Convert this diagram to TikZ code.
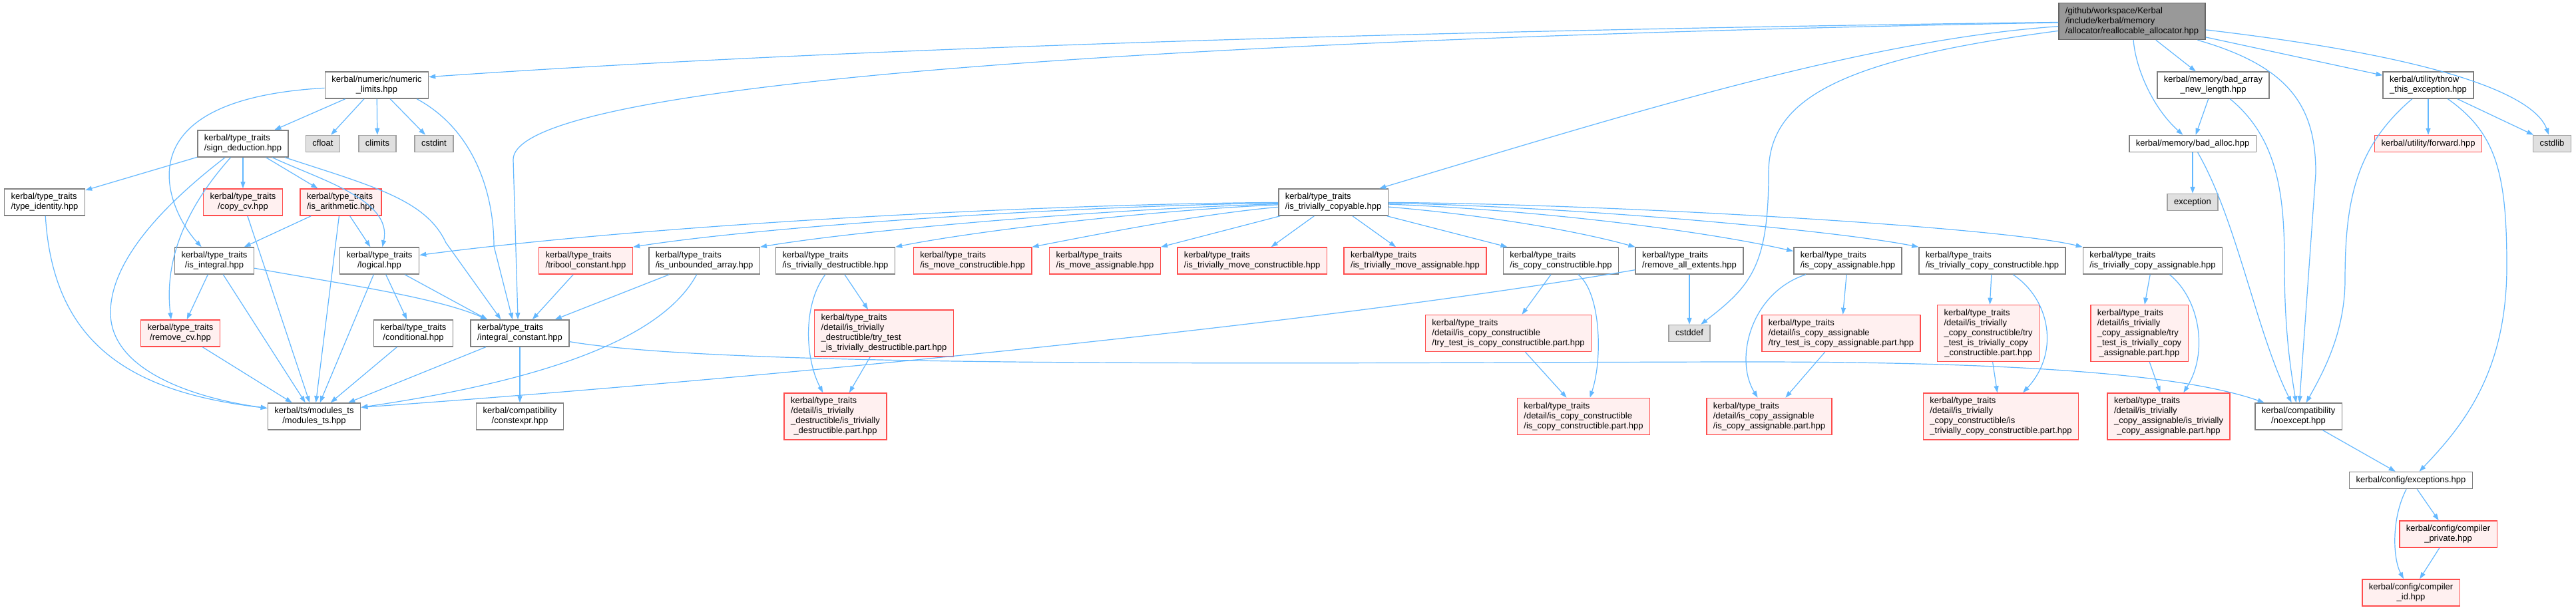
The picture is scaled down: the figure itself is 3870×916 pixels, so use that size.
\documentclass[tikz,border=0pt]{standalone}
\usepackage{fontspec}
\setmainfont{Liberation Sans}
\usetikzlibrary{arrows.meta}

\definecolor{edgeblue}{HTML}{63B8FF}
\definecolor{boxgrey}{HTML}{808080}
\definecolor{redline}{HTML}{FF4D4D}
\definecolor{redfill}{HTML}{FFF0F0}
\definecolor{sysfill}{HTML}{E0E0E0}
\definecolor{sysline}{HTML}{A0A0A0}
\definecolor{rootfill}{HTML}{999999}
\definecolor{rootline}{HTML}{666666}

% first lines flush left, last line centred
\newcommand{\doxlabel}[2]{\begin{tabular}{@{}l@{}}#1\\\multicolumn{1}{@{}c@{}}{#2}\end{tabular}}

\tikzset{
  file/.style={draw=boxgrey, fill=white, line width=1.5pt, inner xsep=10pt, inner ysep=5pt, font=\fontsize{13}{15}\selectfont},
  redfile/.style={file, draw=redline, fill=redfill},
  sysfile/.style={file, draw=sysline, fill=sysfill},
  rootfile/.style={file, draw=rootline, fill=rootfill},
  dep/.style={draw=edgeblue, line width=1.2pt, -{Triangle[length=10pt,width=7pt]}}
}

\begin{document}
\begin{tikzpicture}[x=1pt, y=-1pt]
\fill[white] (0,0) rectangle (3870,916);
\useasboundingbox (0,0) rectangle (3870,916);

% top rows
\node[rootfile] (root) at (3203,32) {\doxlabel{/github/workspace/Kerbal\\/include/kerbal/memory}{/allocator/reallocable\_allocator.hpp}};
\node[file] (numlim) at (566,128) {\doxlabel{kerbal/numeric/numeric}{\_limits.hpp}};
\node[file] (badarr) at (3325,128) {\doxlabel{kerbal/memory/bad\_array}{\_new\_length.hpp}};
\node[file] (throwex) at (3648,128) {\doxlabel{kerbal/utility/throw}{\_this\_exception.hpp}};
\node[file] (signded) at (365,216) {\doxlabel{kerbal/type\_traits}{/sign\_deduction.hpp}};
\node[sysfile] (cfloat) at (485,216) {\strut cfloat};
\node[sysfile] (climits) at (567,216) {\strut climits};
\node[sysfile] (cstdint) at (652,216) {\strut cstdint};
\node[file] (badalloc) at (3294,216) {\strut kerbal/memory/bad\_alloc.hpp};
\node[redfile] (forward) at (3648,216) {\strut kerbal/utility/forward.hpp};
\node[sysfile] (cstdlib) at (3834,216) {\strut cstdlib};
\node[file] (typeid) at (67,304) {\doxlabel{kerbal/type\_traits}{/type\_identity.hpp}};
\node[redfile] (copycv) at (365,304) {\doxlabel{kerbal/type\_traits}{/copy\_cv.hpp}};
\node[redfile] (isarith) at (512,304) {\doxlabel{kerbal/type\_traits}{/is\_arithmetic.hpp}};
\node[file] (istcopy) at (2003,304) {\doxlabel{kerbal/type\_traits}{/is\_trivially\_copyable.hpp}};
\node[sysfile] (exception) at (3294,304) {\strut exception};

% middle row
\node[file] (isint) at (322,392) {\doxlabel{kerbal/type\_traits}{/is\_integral.hpp}};
\node[file] (logical) at (570,392) {\doxlabel{kerbal/type\_traits}{/logical.hpp}};
\node[redfile] (tribool) at (880,392) {\doxlabel{kerbal/type\_traits}{/tribool\_constant.hpp}};
\node[file] (isunbarr) at (1058,392) {\doxlabel{kerbal/type\_traits}{/is\_unbounded\_array.hpp}};
\node[file] (istdestr) at (1255,392) {\doxlabel{kerbal/type\_traits}{/is\_trivially\_destructible.hpp}};
\node[redfile] (ismovec) at (1461,392) {\doxlabel{kerbal/type\_traits}{/is\_move\_constructible.hpp}};
\node[redfile] (ismovea) at (1660,392) {\doxlabel{kerbal/type\_traits}{/is\_move\_assignable.hpp}};
\node[redfile] (istmovec) at (1881,392) {\doxlabel{kerbal/type\_traits}{/is\_trivially\_move\_constructible.hpp}};
\node[redfile] (istmovea) at (2126,392) {\doxlabel{kerbal/type\_traits}{/is\_trivially\_move\_assignable.hpp}};
\node[file] (iscopyc) at (2345,392) {\doxlabel{kerbal/type\_traits}{/is\_copy\_constructible.hpp}};
\node[file] (remallext) at (2538,392) {\doxlabel{kerbal/type\_traits}{/remove\_all\_extents.hpp}};
\node[file] (iscopya) at (2776,392) {\doxlabel{kerbal/type\_traits}{/is\_copy\_assignable.hpp}};
\node[file] (istcopyc) at (2993,392) {\doxlabel{kerbal/type\_traits}{/is\_trivially\_copy\_constructible.hpp}};
\node[file] (istcopya) at (3234,392) {\doxlabel{kerbal/type\_traits}{/is\_trivially\_copy\_assignable.hpp}};

% detail row
\node[redfile] (removecv) at (271,501) {\doxlabel{kerbal/type\_traits}{/remove\_cv.hpp}};
\node[file] (conditional) at (621,501) {\doxlabel{kerbal/type\_traits}{/conditional.hpp}};
\node[file] (intconst) at (781,501) {\doxlabel{kerbal/type\_traits}{/integral\_constant.hpp}};
\node[redfile] (trydestr) at (1328,501) {\doxlabel{kerbal/type\_traits\\/detail/is\_trivially\\\_destructible/try\_test}{\_is\_trivially\_destructible.part.hpp}};
\node[redfile] (trycopyc) at (2266,501) {\doxlabel{kerbal/type\_traits\\/detail/is\_copy\_constructible}{/try\_test\_is\_copy\_constructible.part.hpp}};
\node[sysfile] (cstddef) at (2538,501) {\strut cstddef};
\node[redfile] (trycopya) at (2766,501) {\doxlabel{kerbal/type\_traits\\/detail/is\_copy\_assignable}{/try\_test\_is\_copy\_assignable.part.hpp}};
\node[redfile] (trytcopyc) at (2987,501) {\doxlabel{kerbal/type\_traits\\/detail/is\_trivially\\\_copy\_constructible/try\\\_test\_is\_trivially\_copy}{\_constructible.part.hpp}};
\node[redfile] (trytcopya) at (3214,501) {\doxlabel{kerbal/type\_traits\\/detail/is\_trivially\\\_copy\_assignable/try\\\_test\_is\_trivially\_copy}{\_assignable.part.hpp}};

% bottom rows
\node[file] (modulests) at (472,626) {\doxlabel{kerbal/ts/modules\_ts}{/modules\_ts.hpp}};
\node[file] (constexpr) at (781,626) {\doxlabel{kerbal/compatibility}{/constexpr.hpp}};
\node[redfile] (partdestr) at (1255,626) {\doxlabel{kerbal/type\_traits\\/detail/is\_trivially\\\_destructible/is\_trivially}{\_destructible.part.hpp}};
\node[redfile] (partcopyc) at (2379,626) {\doxlabel{kerbal/type\_traits\\/detail/is\_copy\_constructible}{/is\_copy\_constructible.part.hpp}};
\node[redfile] (partcopya) at (2658,626) {\doxlabel{kerbal/type\_traits\\/detail/is\_copy\_assignable}{/is\_copy\_assignable.part.hpp}};
\node[redfile] (parttcopyc) at (3006,626) {\doxlabel{kerbal/type\_traits\\/detail/is\_trivially\\\_copy\_constructible/is}{\_trivially\_copy\_constructible.part.hpp}};
\node[redfile] (parttcopya) at (3258,626) {\doxlabel{kerbal/type\_traits\\/detail/is\_trivially\\\_copy\_assignable/is\_trivially}{\_copy\_assignable.part.hpp}};
\node[file] (noexcept) at (3453,626) {\doxlabel{kerbal/compatibility}{/noexcept.hpp}};
\node[file] (exceptions) at (3622,722) {\strut kerbal/config/exceptions.hpp};
\node[redfile] (comppriv) at (3678,803) {\doxlabel{kerbal/config/compiler}{\_private.hpp}};
\node[redfile] (compid) at (3622,891) {\doxlabel{kerbal/config/compiler}{\_id.hpp}};

% edges from the root
\draw[dep] (root) .. controls (2200,45) and (1300,70) .. (numlim.9);
\draw[dep] (root) .. controls (2200,50) and (771,100) .. (771,240) -- (intconst.98);
\draw[dep] (root) .. controls (2800,60) and (2450,170) .. (istcopy);
\draw[dep] (root) .. controls (2760,90) and (2657,150) .. (2657,260) .. controls (2657,400) and (2630,430) .. (cstddef);
\draw[dep] (root) -- (badarr);
\draw[dep] (root) .. controls (3208,100) and (3232,160) .. (badalloc);
\draw[dep] (root) .. controls (3440,100) and (3479,160) .. (3479,260) -- (noexcept);
\draw[dep] (root) -- (throwex);
\draw[dep] (root) .. controls (3700,90) and (3810,150) .. (cstdlib);

% numeric limits and sign deduction
\draw[dep] (numlim) -- (signded);
\draw[dep] (numlim) -- (cfloat);
\draw[dep] (numlim) -- (climits);
\draw[dep] (numlim) -- (cstdint);
\draw[dep] (numlim) .. controls (170,150) and (255,320) .. (isint); % passes left of sign_deduction
\draw[dep] (numlim.-19) .. controls (712,195) and (742,290) .. (742,370) -- (intconst.118); % passes right of cstdint
\draw[dep] (signded) -- (typeid);
\draw[dep] (signded) -- (copycv);
\draw[dep] (signded) -- (isarith);
\draw[dep] (signded) .. controls (480,270) and (590,300) .. (logical);
\draw[dep] (signded) .. controls (560,280) and (640,300) .. (670,365) -- (intconst.144);
\draw[dep] (signded) .. controls (290,300) and (245,380) .. (removecv.124);
\draw[dep] (signded) .. controls (230,320) and (166,400) .. (166,470) .. controls (166,560) and (300,600) .. (modulests.170);
\draw[dep] (typeid) .. controls (80,520) and (200,590) .. (modulests.170);
\draw[dep] (copycv) -- (modulests);
\draw[dep] (isarith) -- (isint);
\draw[dep] (isarith) -- (logical);
\draw[dep] (isarith) -- (modulests);
\draw[dep] (isint) -- (removecv);
\draw[dep] (isint) -- (modulests);
\draw[dep] (isint) .. controls (500,425) and (650,445) .. (intconst.157);
\draw[dep] (logical) -- (conditional);
\draw[dep] (logical) -- (modulests);
\draw[dep] (logical) -- (intconst.157);
\draw[dep] (tribool) -- (intconst);
\draw[dep] (isunbarr) -- (intconst);
\draw[dep] (isunbarr) .. controls (1010,480) and (900,560) .. (modulests.11);
\draw[dep] (removecv) -- (modulests);
\draw[dep] (conditional) -- (modulests);
\draw[dep] (intconst) -- (modulests);
\draw[dep] (intconst) -- (constexpr);
\draw[dep] (intconst) .. controls (1100,555) and (2000,545) .. (2600,544) .. controls (3100,543) and (3300,570) .. (noexcept.158);

% is_trivially_copyable fan
\draw[dep] (istcopy) .. controls (1600,306) and (1000,335) .. (logical.8);
\draw[dep] (istcopy) .. controls (1600,310) and (1150,340) .. (tribool.north east);
\draw[dep] (istcopy) .. controls (1650,315) and (1300,345) .. (isunbarr.north east);
\draw[dep] (istcopy) .. controls (1700,318) and (1450,350) .. (istdestr.north east);
\draw[dep] (istcopy) .. controls (1800,322) and (1650,352) .. (ismovec.north east);
\draw[dep] (istcopy) -- (ismovea.north east);
\draw[dep] (istcopy) -- (istmovec);
\draw[dep] (istcopy) -- (istmovea);
\draw[dep] (istcopy) -- (iscopyc);
\draw[dep] (istcopy) .. controls (2250,325) and (2380,350) .. (remallext.north west);
\draw[dep] (istcopy) .. controls (2300,315) and (2550,345) .. (iscopya.170);
\draw[dep] (istcopy) .. controls (2350,310) and (2750,345) .. (istcopyc.north west);
\draw[dep] (istcopy) .. controls (2400,306) and (3000,340) .. (istcopya.north west);

% detail headers
\draw[dep] (istdestr) -- (trydestr);
\draw[dep] (istdestr) .. controls (1205,460) and (1210,540) .. (partdestr);
\draw[dep] (trydestr) -- (partdestr);
\draw[dep] (iscopyc) -- (trycopyc);
\draw[dep] (iscopyc) .. controls (2405,440) and (2408,540) .. (partcopyc);
\draw[dep] (trycopyc) -- (partcopyc);
\draw[dep] (remallext) -- (cstddef);
\draw[dep] (remallext) .. controls (1900,500) and (1000,580) .. (modulests.11);
\draw[dep] (iscopya) -- (trycopya);
\draw[dep] (iscopya) .. controls (2630,440) and (2605,540) .. (partcopya);
\draw[dep] (trycopya) -- (partcopya);
\draw[dep] (istcopyc) -- (trytcopyc);
\draw[dep] (istcopyc) .. controls (3080,450) and (3095,530) .. (parttcopyc);
\draw[dep] (trytcopyc) -- (parttcopyc);
\draw[dep] (istcopya) -- (trytcopya);
\draw[dep] (istcopya) .. controls (3305,450) and (3318,530) .. (parttcopya);
\draw[dep] (trytcopya) -- (parttcopya);

% memory and config side
\draw[dep] (badarr) -- (badalloc);
\draw[dep] (badarr) .. controls (3425,210) and (3432,300) .. (3432,400) .. controls (3432,500) and (3442,560) .. (noexcept);
\draw[dep] (badalloc) -- (exception);
\draw[dep] (badalloc) .. controls (3360,330) and (3390,500) .. (noexcept);
\draw[dep] (throwex) -- (forward);
\draw[dep] (throwex) -- (cstdlib);
\draw[dep] (throwex) .. controls (3540,220) and (3523,300) .. (3523,420) .. controls (3523,500) and (3490,560) .. (noexcept);
\draw[dep] (throwex) .. controls (3750,200) and (3766,260) .. (3766,400) .. controls (3766,560) and (3700,640) .. (exceptions);
\draw[dep] (noexcept) -- (exceptions);
\draw[dep] (exceptions) -- (comppriv);
\draw[dep] (exceptions) .. controls (3592,780) and (3595,840) .. (compid);
\draw[dep] (comppriv) -- (compid);
\end{tikzpicture}
\end{document}
